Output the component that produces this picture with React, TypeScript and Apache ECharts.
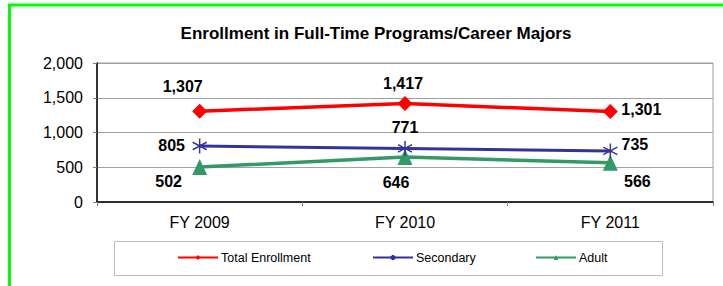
import React, { useEffect, useRef } from "react";
import * as echarts from "echarts";

const categories = ["FY 2009", "FY 2010", "FY 2011"];
const totalEnrollment = [1307, 1417, 1301];
const secondary = [805, 771, 735];
const adult = [502, 646, 566];
const yTicks = { min: 0, max: 2000, interval: 500 };

const totalOffsets = [[-17, -25], [-2, -20], [31, -2]];
const secondaryOffsets = [[-28, -1], [0, -21], [24.5, -6]];
const adultOffsets = [[-31, 14], [-9, 25], [27, 19]];

const fmt = (v: number) => v.toString().replace(/\B(?=(\d{3})+(?!\d))/g, ",");
const FONT = "'Liberation Sans', Arial, sans-serif";

const asterisk = "path://M7,0L7,14M0,3.5L14,10.5M0,10.5L14,3.5";

function withLabels(values: number[], offsets: number[][]) {
  return values.map((v, i) => ({
    value: v,
    label: {
      show: true,
      position: "inside",
      offset: offsets[i],
      align: "center",
      verticalAlign: "middle",
      formatter: (p: any) => fmt(p.value),
      fontFamily: FONT,
      fontSize: 16,
      fontWeight: "bold",
      color: "#000",
    },
  }));
}

export default function App() {
  const ref = useRef<HTMLDivElement>(null);
  useEffect(() => {
    const chart = echarts.init(ref.current!, null, { renderer: "svg" });
    const legendText = { fontFamily: FONT, fontSize: 12.5, color: "#000", padding: [0, 0, 0, -2] };
    chart.setOption({
      animation: false,
      backgroundColor: "#fff",
      title: {
        text: "Enrollment in Full-Time Programs/Career Majors",
        left: 371,
        top: 20,
        textAlign: "center",
        textStyle: { fontFamily: FONT, fontSize: 17, fontWeight: "bold", color: "#000" },
      },
      graphic: [
        {
          type: "rect",
          shape: { x: 9.5, y: 5, width: 900, height: 500 },
          style: { fill: "none", stroke: "#00ff00", lineWidth: 3 },
          silent: true,
          z: 100,
        },
        {
          type: "rect",
          shape: { x: 114.5, y: 241.5, width: 548, height: 34 },
          style: { fill: "none", stroke: "#bdbdbd", lineWidth: 1 },
          silent: true,
        },
      ],
      legend: [
        { data: ["Total Enrollment"], left: 177, top: 251, itemWidth: 40, itemHeight: 6, textStyle: legendText, padding: 0 },
        { data: ["Secondary"], left: 372, top: 251, itemWidth: 40, itemHeight: 6, textStyle: legendText, padding: 0 },
        { data: ["Adult"], left: 535, top: 251, itemWidth: 40, itemHeight: 6, textStyle: legendText, padding: 0 },
      ],
      grid: {
        left: 97,
        top: 63,
        right: 10,
        bottom: 84,
        show: true,
        borderColor: "#a0a0a0",
        borderWidth: 1,
      },
      xAxis: {
        type: "category",
        data: categories,
        boundaryGap: true,
        axisLine: { lineStyle: { color: "#000", width: 1.5 } },
        axisTick: { show: true, length: 4, lineStyle: { color: "#808080" } },
        axisLabel: { fontFamily: FONT, fontSize: 16, color: "#000", margin: 12 },
      },
      yAxis: {
        type: "value",
        min: yTicks.min,
        max: yTicks.max,
        interval: yTicks.interval,
        axisLine: { show: true, lineStyle: { color: "#000", width: 1.5 } },
        axisTick: { show: true, length: 4, lineStyle: { color: "#808080" } },
        axisLabel: { fontFamily: FONT, fontSize: 16, color: "#000", margin: 14, formatter: (v: number) => fmt(v) },
        splitLine: { lineStyle: { color: "#a0a0a0", width: 1 } },
      },
      series: [
        {
          name: "Total Enrollment",
          type: "line",
          data: withLabels(totalEnrollment, totalOffsets),
          symbol: "diamond",
          symbolSize: [15, 15],
          itemStyle: { color: "#ff0000" },
          lineStyle: { color: "#ff0000", width: 3.5 },
          z: 3,
        },
        {
          name: "Secondary",
          type: "line",
          data: withLabels(secondary, secondaryOffsets),
          symbol: asterisk,
          symbolSize: [14, 15],
          itemStyle: { color: "#333399", borderColor: "#333399", borderWidth: 1.5 },
          lineStyle: { color: "#333399", width: 3 },
          z: 2,
        },
        {
          name: "Adult",
          type: "line",
          data: withLabels(adult, adultOffsets),
          symbol: "triangle",
          symbolSize: [15, 16],
          itemStyle: { color: "#339966" },
          lineStyle: { color: "#339966", width: 3.5 },
          z: 1,
        },
      ],
    });
    return () => chart.dispose();
  }, []);
  return (
    <div
      ref={ref}
      style={{ position: "fixed", left: 0, top: 0, width: 723, height: 286 }}
    />
  );
}
